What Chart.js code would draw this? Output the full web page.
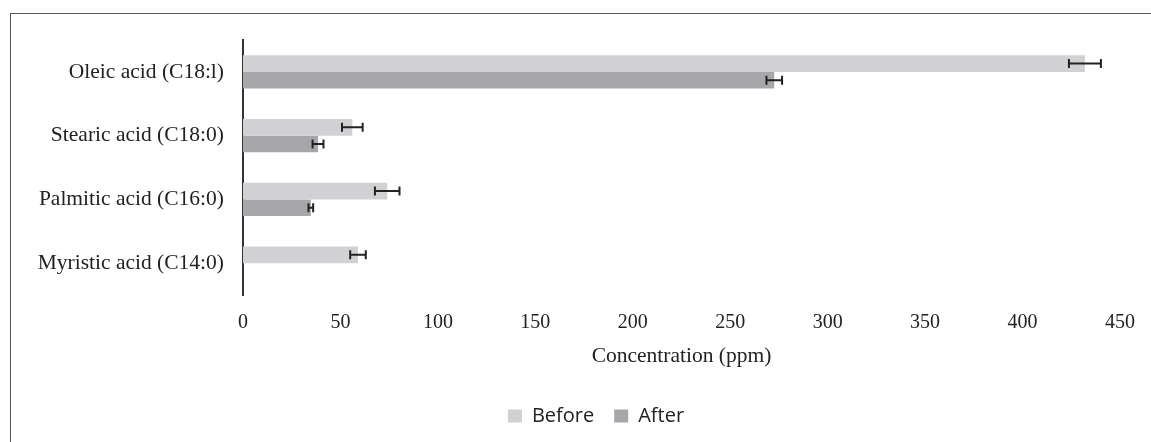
<!DOCTYPE html>
<html>
<head>
<meta charset="utf-8">
<script src="https://cdn.jsdelivr.net/npm/chart.js@4.4.0/dist/chart.umd.min.js"></script>
<style>
  html, body { margin: 0; padding: 0; background: #fff; overflow: hidden; }
  .wrap { position: relative; width: 1151px; height: 442px; }
  .frame { position: absolute; left: 10px; top: 13px; width: 1160px; height: 450px; border: 1px solid #555; box-sizing: border-box; }
  canvas { position: absolute; left: 0; top: 0; }
</style>
</head>
<body>
<div class="wrap">
  <div class="frame"></div>
  <canvas id="acidchart" width="1151" height="442"></canvas>
</div>
<script>
// data
const acids = ["Oleic acid (C18:l)", "Stearic acid (C18:0)", "Palmitic acid (C16:0)", "Myristic acid (C14:0)"];
const beforeValues = [432, 56.1, 74, 59];
const beforeErrors = [8.2, 5.3, 6.3, 4];
const afterValues = [272.6, 38.5, 34.8, null];
const afterErrors = [4, 2.8, 1.2, null];
const xTicks = [0, 50, 100, 150, 200, 250, 300, 350, 400, 450];

const errors = [beforeErrors, afterErrors];

//error bars
const errorBars = {
  id: "errorBars",
  afterDatasetsDraw(chart) {
    const ctx = chart.ctx;
    const xScale = chart.scales.x;
    ctx.save();
    ctx.strokeStyle = "#222";
    ctx.lineWidth = 2;
    chart.data.datasets.forEach((ds, i) => {
      const meta = chart.getDatasetMeta(i);
      meta.data.forEach((bar, j) => {
        const v = ds.data[j];
        const e = errors[i][j];
        if (v == null || e == null) return;
        const x0 = xScale.getPixelForValue(v - e);
        const x1 = xScale.getPixelForValue(v + e);
        const y = bar.y;
        ctx.beginPath();
        ctx.moveTo(x0, y);
        ctx.lineTo(x1, y);
        ctx.moveTo(x0, y - 4.5);
        ctx.lineTo(x0, y + 4.5);
        ctx.moveTo(x1, y - 4.5);
        ctx.lineTo(x1, y + 4.5);
        ctx.stroke();
      });
    });
    ctx.restore();
  },
};

//legend sits a bit left of the plot centre
const legendShift = {
  id: "legendShift",
  afterLayout(chart) {
    chart.legend.left += 70;
  },
};

var acidCanvas = document.getElementById("acidchart").getContext("2d");
var acidChart = new Chart(acidCanvas, {
  type: "bar",
  data: {
    labels: acids,
    datasets: [
      {
        label: "Before",
        data: beforeValues,
        backgroundColor: "#d1d1d3",
        categoryPercentage: 0.52,
        barPercentage: 1,
      },
      {
        label: "After",
        data: afterValues,
        backgroundColor: "#a7a7aa",
        categoryPercentage: 0.52,
        barPercentage: 1,
      },
    ],
  },
  options: {
    indexAxis: "y",
    responsive: false,
    animation: false,
    devicePixelRatio: 1,
    layout: { padding: { top: 40, right: 29, bottom: 6, left: 0 } },
    plugins: {
      tooltip: { enabled: false },
      legend: {
        position: "bottom",
        labels: {
          font: { family: "'Open Sans'", size: 20 },
          color: "#222",
          boxWidth: 14,
          boxHeight: 13,
          padding: 20,
        },
      },
    },
    scales: {
      x: {
        min: 0,
        max: 450,
        afterBuildTicks: (scale) => {
          scale.ticks = xTicks.map((v) => ({ value: v }));
        },
        afterFit: (scale) => {
          scale.height = 91;
        },
        grid: { display: false, drawTicks: false },
        border: { display: false },
        ticks: {
          padding: 16,
          color: "#222",
          font: { family: "'Liberation Serif'", size: 20 },
        },
        title: {
          display: true,
          text: "Concentration (ppm)",
          color: "#222",
          font: { family: "'Liberation Serif'", size: 21.5 },
          padding: { top: 0, bottom: 17 },
        },
      },
      y: {
        afterFit: (scale) => {
          scale.width = 243;
        },
        grid: { display: false, drawTicks: false },
        border: { display: true, color: "#333", width: 2 },
        ticks: {
          padding: 19,
          color: "#222",
          font: { family: "'Liberation Serif'", size: 21.5 },
        },
      },
    },
  },
  plugins: [errorBars, legendShift],
});
</script>
</body>
</html>
